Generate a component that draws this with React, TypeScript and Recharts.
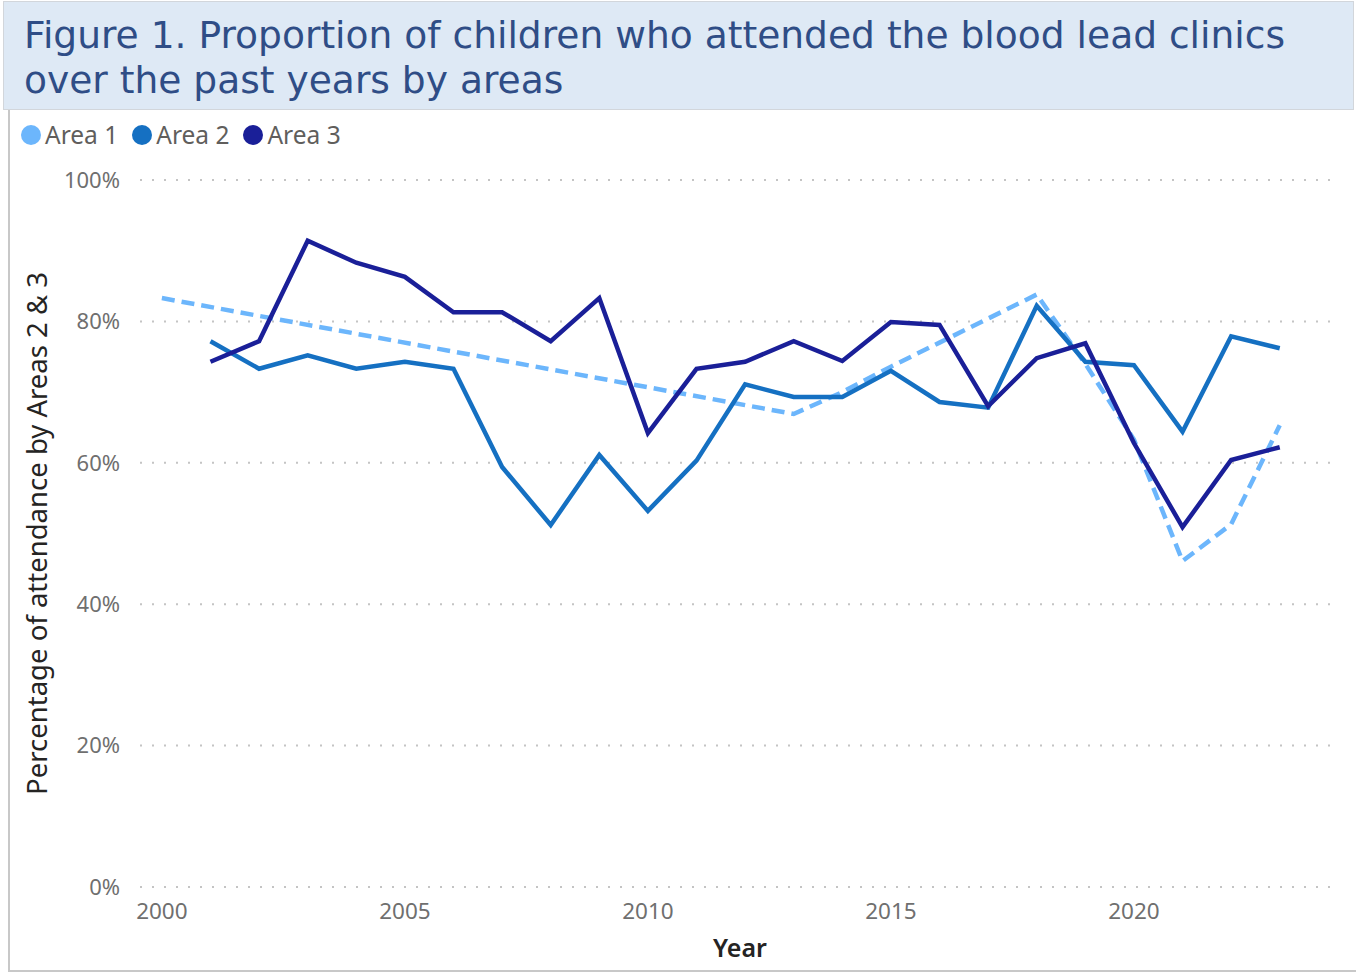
import React from "react";
import { LineChart, Line, XAxis, YAxis, CartesianGrid } from "recharts";

const years = [2000, 2001, 2002, 2003, 2004, 2005, 2006, 2007, 2008, 2009, 2010, 2011, 2012, 2013, 2014, 2015, 2016, 2017, 2018, 2019, 2020, 2021, 2022, 2023];
const area1: (number | null)[] = [83.3, null, null, null, null, null, null, null, null, null, null, null, null, 66.9, 70.0, 73.6, 77.0, 80.4, 83.8, 74.0, 63.3, 46.1, 51.3, 65.3];
const area2: (number | null)[] = [null, 77.2, 73.3, 75.2, 73.3, 74.3, 73.3, 59.4, 51.2, 61.1, 53.2, 60.3, 71.1, 69.3, 69.3, 73.0, 68.6, 67.8, 82.2, 74.3, 73.8, 64.4, 77.9, 76.2];
const area3: (number | null)[] = [null, 74.3, 77.2, 91.4, 88.3, 86.3, 81.3, 81.3, 77.2, 83.3, 64.2, 73.3, 74.3, 77.2, 74.4, 79.9, 79.5, 68.0, 74.8, 76.9, 62.8, 50.9, 60.4, 62.2];

const seriesNames = ["Area 1", "Area 2", "Area 3"];
const colors = ["#6cb6fc", "#1570c2", "#1a1f98"];
const xTicks = [2000, 2005, 2010, 2015, 2020];
const yTicks = [0, 20, 40, 60, 80, 100];

const titleLines = ["Figure 1. Proportion of children who attended the blood lead clinics", "over the past years by areas"];
const yLabel = "Percentage of attendance by Areas 2 & 3";
const xLabel = "Year";

const data = years.map((y, i) => ({ year: y, a1: area1[i], a2: area2[i], a3: area3[i] }));

const tickFont = "'Noto Sans', 'Open Sans', sans-serif";

export default function App() {
  return (
    <div style={{ position: "absolute", left: 0, top: 0, width: 1358, height: 973, background: "#fff", overflow: "hidden" }}>
      <div style={{ position: "absolute", left: 8, top: 108, width: 1346, height: 862, borderLeft: "2px solid #c8c8c8", borderBottom: "2px solid #c8c8c8" }} />
      <div style={{ position: "absolute", left: 3, top: 1, width: 1349, height: 107, background: "#dee9f5", border: "1px solid #d2d6db" }} />
      <div style={{ position: "absolute", left: 24, top: 13, width: 1330, whiteSpace: "nowrap", fontFamily: "'DejaVu Sans', Verdana, sans-serif", fontSize: 37.6, lineHeight: "45px", color: "#2f4d86" }}>
        {titleLines.map((t) => (
          <div key={t}>{t}</div>
        ))}
      </div>
      <div style={{ position: "absolute", left: 21, top: 118, display: "flex", alignItems: "center", fontFamily: tickFont, fontSize: 24.5, color: "#605e5c", whiteSpace: "nowrap" }}>
        {seriesNames.map((n, i) => (
          <div key={n} style={{ display: "flex", alignItems: "center", marginRight: 14 }}>
            <span style={{ display: "inline-block", width: 20, height: 20, borderRadius: "50%", background: colors[i], marginRight: 4 }} />
            <span>{n}</span>
          </div>
        ))}
      </div>
      <div style={{ position: "absolute", left: 0, top: 0 }}>
        <LineChart width={1358} height={973} data={data} margin={{ top: 180, right: 18, bottom: 10, left: 10 }}>
          <CartesianGrid vertical={false} stroke="#c4c4c4" strokeWidth={2} strokeDasharray="2 10" />
          <XAxis
            dataKey="year"
            type="number"
            domain={[1999.55, 2024.24]}
            ticks={xTicks}
            allowDataOverflow
            axisLine={false}
            tickLine={false}
            tickSize={0}
            tickMargin={16}
            height={76}
            tick={{ fontSize: 22.5, fill: "#6f6f6f", fontFamily: tickFont }}
            label={{ value: xLabel, position: "insideBottom", offset: 6, style: { fontSize: 25, fill: "#252423", fontWeight: 600, fontFamily: tickFont } }}
          />
          <YAxis
            type="number"
            domain={[0, 100]}
            ticks={yTicks}
            axisLine={false}
            tickLine={false}
            tickSize={0}
            tickMargin={20}
            width={130}
            tickFormatter={(v: number) => `${v}%`}
            tick={{ fontSize: 22, fill: "#6f6f6f", fontFamily: tickFont }}
            label={{ value: yLabel, angle: -90, position: "insideLeft", offset: 27, style: { textAnchor: "middle", fontSize: 27.5, fill: "#252423", fontFamily: tickFont } }}
          />
          <Line type="linear" dataKey="a1" name={seriesNames[0]} stroke={colors[0]} strokeWidth={4.5} strokeDasharray="13 7" dot={false} connectNulls isAnimationActive={false} />
          <Line type="linear" dataKey="a2" name={seriesNames[1]} stroke={colors[1]} strokeWidth={4.5} dot={false} connectNulls isAnimationActive={false} />
          <Line type="linear" dataKey="a3" name={seriesNames[2]} stroke={colors[2]} strokeWidth={4.5} dot={false} connectNulls isAnimationActive={false} />
        </LineChart>
      </div>
    </div>
  );
}
